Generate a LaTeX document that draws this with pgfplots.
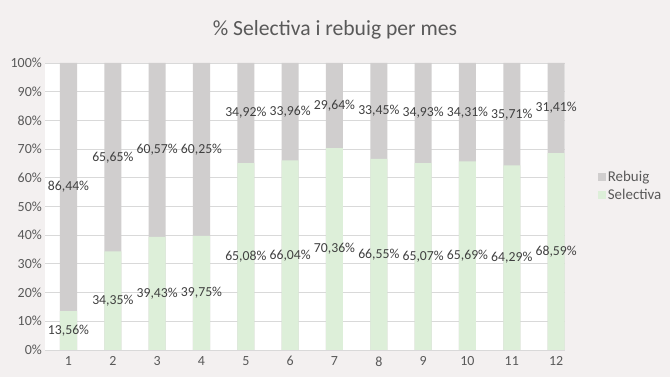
\documentclass[border=0pt]{standalone}
\usepackage{fontspec}
\setmainfont{Carlito}
\usepackage{pgfplots}
\pgfplotsset{compat=1.18}
\usepackage{pgfplotstable}
\definecolor{bgc}{HTML}{F3F0F0}
\definecolor{reb}{HTML}{D0CECE}
\definecolor{sel}{HTML}{DDEFD9}
\definecolor{gridc}{HTML}{D9D9D9}
\definecolor{txt}{HTML}{595959}
\definecolor{lab}{HTML}{404040}
\pgfplotsset{sqlegend/.style={legend image code/.code={\fill[##1] (0bp,-3.75bp) rectangle (7.5bp,3.75bp);}}}

\pgfplotstableread{
m sel reb
1 13.56 86.44
2 34.35 65.65
3 39.43 60.57
4 39.75 60.25
5 65.08 34.92
6 66.04 33.96
7 70.36 29.64
8 66.55 33.45
9 65.07 34.93
10 65.69 34.31
11 64.29 35.71
12 68.59 31.41
}\data

\begin{document}
\begin{tikzpicture}
\fill[bgc] (0bp,0bp) rectangle (670bp,377bp);
\node[anchor=base, font=\fontsize{21.7}{26}\selectfont, text=txt] at (335bp,341bp) {\% Selectiva i rebuig per mes};
\begin{axis}[
  at={(45bp,27bp)}, anchor=south west,
  scale only axis, width=520bp, height=287bp,
  xmin=0.47, xmax=12.2, ymin=0, ymax=100,
  xtick={1,...,12}, ytick={0,10,...,100},
  ymajorgrids, grid style={gridc, line width=0.8bp},
  major tick length=0pt,
  axis line style={draw=none},
  axis background/.style={fill=white},
  /pgf/number format/assume math mode=true,
  tick label style={font=\fontsize{14}{16}\selectfont, text=txt},
  yticklabel={\pgfmathprintnumber{\tick}\%},
  yticklabel style={inner sep=3bp},
  xticklabel style={yshift=-3bp},
  legend style={at={(1.058,0.638)}, anchor=north west, draw=none, fill=none,
    font=\fontsize{15}{17}\selectfont, text=txt, row sep=2bp,
    /tikz/every even column/.append style={column sep=3bp}},
  legend cell align=left,
]
\addplot[ybar, bar width=0.384, bar shift=0pt, fill=reb, draw=none, sqlegend]
  table[x=m, y expr=\thisrow{sel}+\thisrow{reb}]{\data};
\addlegendentry{Rebuig}
\addplot[ybar, bar width=0.384, bar shift=0pt, fill=sel, draw=none, sqlegend]
  table[x=m, y=sel]{\data};
\addlegendentry{Selectiva}
\addplot[forget plot, only marks, mark=text, text mark={},
  point meta=explicit,
  nodes near coords={\pgfmathprintnumber[fixed, fixed zerofill, precision=2, use comma]{\pgfplotspointmeta}\%},
  nodes near coords style={anchor=center, font=\fontsize{13.8}{16}\selectfont, text=lab}]
  table[x=m, y expr=\thisrow{sel}/2, meta=sel]{\data};
\addplot[forget plot, only marks, mark=text, text mark={},
  point meta=explicit,
  nodes near coords={\pgfmathprintnumber[fixed, fixed zerofill, precision=2, use comma]{\pgfplotspointmeta}\%},
  nodes near coords style={anchor=center, font=\fontsize{13.8}{16}\selectfont, text=lab}]
  table[x=m, y expr=\thisrow{sel}+\thisrow{reb}/2, meta=reb]{\data};
\end{axis}
\end{tikzpicture}
\end{document}
